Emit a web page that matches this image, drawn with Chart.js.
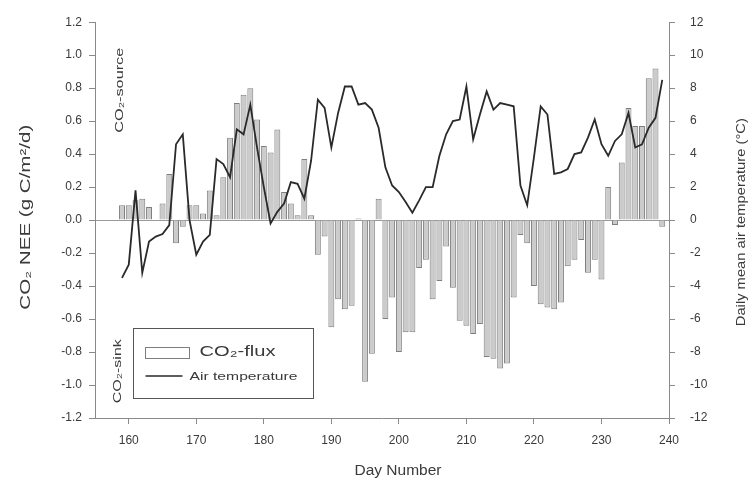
<!DOCTYPE html>
<html>
<head>
<meta charset="utf-8">
<script src="https://cdn.jsdelivr.net/npm/chart.js@4.4.1/dist/chart.umd.min.js"></script>
<style>
html,body{margin:0;padding:0;background:#ffffff;}
#wrap{width:752px;height:490px;position:relative;}
</style>
</head>
<body>
<div id="wrap"><canvas id="c" width="752" height="490"></canvas></div>
<script>
// ---- data ----
const days = [159,160,161,162,163,164,165,166,167,168,169,170,171,172,173,174,175,176,177,178,179,
  180,181,182,183,184,185,186,187,188,189,190,191,192,193,194,195,196,197,198,199,
  200,201,202,203,204,205,206,207,208,209,210,211,212,213,214,215,216,217,218,219,
  220,221,222,223,224,225,226,227,228,229,230,231,232,233,234,235,236,237,238,239];

const co2Flux = [0.09,0.09,0.12,0.13,0.08,0.00,0.10,0.28,-0.14,-0.04,0.09,0.09,0.04,0.18,0.03,0.26,0.50,0.71,0.76,0.80,0.61,
  0.45,0.41,0.55,0.17,0.10,0.03,0.37,0.03,-0.21,-0.10,-0.65,-0.48,-0.54,-0.52,0.01,-0.98,-0.81,0.13,-0.60,-0.47,
  -0.80,-0.68,-0.68,-0.29,-0.24,-0.48,-0.37,-0.16,-0.41,-0.61,-0.64,-0.69,-0.63,-0.83,-0.84,-0.90,-0.87,-0.47,-0.09,-0.14,
  -0.40,-0.51,-0.53,-0.54,-0.50,-0.28,-0.24,-0.12,-0.32,-0.24,-0.36,0.20,-0.03,0.35,0.68,0.57,0.57,0.86,0.92,-0.04];

const airTemp = [-3.5,-2.7,1.8,-3.2,-1.3,-1.0,-0.85,-0.3,4.6,5.2,0.0,-2.1,-1.3,-0.9,3.7,3.4,2.6,5.5,5.2,7.0,4.4,
  2.0,-0.2,0.5,1.0,2.3,2.2,1.3,3.6,7.3,6.8,4.4,6.5,8.1,8.1,7.0,7.1,6.7,5.6,3.2,2.1,
  1.7,1.1,0.45,1.2,2.0,2.0,3.9,5.2,6.0,6.1,8.1,4.9,6.4,7.8,6.7,7.1,7.0,6.9,2.1,0.9,
  3.8,6.9,6.4,2.8,2.9,3.1,4.0,4.1,5.0,6.1,4.6,3.9,4.8,5.2,6.5,4.4,4.6,5.6,6.2,8.5];

const dayTicks = [160,170,180,190,200,210,220,230,240];
const neeTicks = [-1.2,-1.0,-0.8,-0.6,-0.4,-0.2,0,0.2,0.4,0.6,0.8,1.0,1.2];
const tempTicks = [-12,-10,-8,-6,-4,-2,0,2,4,6,8,10,12];

const seriesNames = ['CO₂-flux', 'Air temperature'];

// ---- styling ----
const FONT = "'Liberation Sans', Arial, Helvetica, sans-serif";
const TEXT = '#3a3a3a';
const AXIS = '#8a8a8a';
Chart.defaults.font.family = FONT;
Chart.defaults.color = TEXT;

function drawStretched(ctx, text, x, y, rot, size, target, align) {
  ctx.save();
  ctx.translate(x, y);
  ctx.rotate(rot);
  ctx.font = size + 'px ' + FONT;
  ctx.textAlign = align || 'center';
  ctx.textBaseline = 'middle';
  const w = ctx.measureText(text).width;
  if (target && w > 0) ctx.scale(target / w, 1);
  ctx.fillText(text, 0, 0);
  ctx.restore();
}

const decor = {
  id: 'decor',
  afterDraw(chart) {
    const ctx = chart.ctx;
    const ca = chart.chartArea;
    const barDs = chart.data.datasets[0];
    const lineDs = chart.data.datasets[1];
    ctx.save();
    ctx.fillStyle = TEXT;
    // axis titles
    drawStretched(ctx, 'CO₂ NEE (g C/m²/d)', 26, ca.top + 195, -Math.PI / 2, 14, 185);
    drawStretched(ctx, 'Daily mean air temperature (°C)', 741, ca.top + 200, -Math.PI / 2, 13, 208);
    drawStretched(ctx, 'Day Number', 398, 471, 0, 14, 87);
    // source / sink annotations
    drawStretched(ctx, 'CO₂-source', ca.left + 25, ca.top + 68, -Math.PI / 2, 11, 85);
    drawStretched(ctx, 'CO₂-sink', ca.left + 23, ca.top + 349, -Math.PI / 2, 11, 64);

    // legend box
    const lx = ca.left + 38.5, ly = 328.5, lw = 180, lh = 70;
    ctx.strokeStyle = '#555555';
    ctx.lineWidth = 1;
    ctx.strokeRect(lx, ly, lw, lh);
    // bar sample
    ctx.fillStyle = '#ffffff';
    ctx.fillRect(lx + 12, ly + 19, 44, 11);
    ctx.strokeStyle = barDs.borderColor;
    ctx.strokeRect(lx + 12, ly + 19, 44, 11);
    // line sample
    ctx.strokeStyle = lineDs.borderColor;
    ctx.lineWidth = 1.5;
    ctx.beginPath();
    ctx.moveTo(lx + 12, ly + 47.5);
    ctx.lineTo(lx + 49, ly + 47.5);
    ctx.stroke();
    ctx.fillStyle = TEXT;
    drawStretched(ctx, seriesNames[0], lx + 66, ly + 23, 0, 15, 76, 'left');
    drawStretched(ctx, seriesNames[1], lx + 56, ly + 48, 0, 11.5, 108, 'left');
    ctx.restore();
  }
};

const barData = days.map((d, i) => ({ x: d, y: co2Flux[i] }));
const lineData = days.map((d, i) => ({ x: d, y: airTemp[i] }));

new Chart(document.getElementById('c'), {
  type: 'bar',
  data: {
    datasets: [
      {
        type: 'bar',
        label: seriesNames[0],
        data: barData,
        xAxisID: 'x',
        yAxisID: 'y',
        backgroundColor: '#cbcbcb',
        borderColor: '#7e7e7e',
        borderWidth: 1,
        barPercentage: 0.88,
        categoryPercentage: 1.0,
        order: 2
      },
      {
        type: 'line',
        label: seriesNames[1],
        data: lineData,
        xAxisID: 'x',
        yAxisID: 'y2',
        borderColor: '#2a2a2a',
        borderWidth: 1.8,
        pointRadius: 0,
        tension: 0,
        fill: false,
        order: 1
      }
    ]
  },
  options: {
    responsive: false,
    animation: false,
    devicePixelRatio: 1,
    layout: { padding: { top: 16, left: 0, right: 0, bottom: 0 } },
    plugins: {
      legend: { display: false },
      tooltip: { enabled: false },
      title: { display: false }
    },
    scales: {
      x: {
        type: 'linear',
        position: 'bottom',
        min: 155,
        max: 240,
        offset: false,
        afterBuildTicks: s => { s.ticks = dayTicks.map(v => ({ value: v })); },
        afterFit: s => { s.height = 72; },
        border: { display: true, color: AXIS, width: 1 },
        grid: { offset: false, drawOnChartArea: false, drawTicks: true, tickLength: 6, tickColor: AXIS, color: AXIS },
        ticks: { color: TEXT, font: { size: 12 }, padding: 9, maxRotation: 0, autoSkip: false },
        title: { display: false }
      },
      y: {
        type: 'linear',
        position: 'left',
        min: -1.2,
        max: 1.2,
        afterBuildTicks: s => { s.ticks = neeTicks.map(v => ({ value: v })); },
        afterFit: s => { s.width = 95; },
        border: { display: true, color: AXIS, width: 1 },
        grid: {
          drawOnChartArea: true,
          drawTicks: true,
          tickLength: 6,
          tickColor: AXIS,
          color: c => (c.tick && c.tick.value === 0) ? '#9a9a9a' : 'rgba(0,0,0,0)',
          lineWidth: 1
        },
        ticks: { color: TEXT, font: { size: 12 }, padding: 7, autoSkip: false, callback: v => Number(v).toFixed(1) },
        title: { display: false }
      },
      y2: {
        type: 'linear',
        position: 'right',
        min: -12,
        max: 12,
        afterBuildTicks: s => { s.ticks = tempTicks.map(v => ({ value: v })); },
        afterFit: s => { s.width = 83; },
        border: { display: true, color: AXIS, width: 1 },
        grid: { drawOnChartArea: false, drawTicks: true, tickLength: 6, tickColor: AXIS, color: AXIS },
        ticks: { color: TEXT, font: { size: 12 }, padding: 15, autoSkip: false, callback: v => String(v) },
        title: { display: false }
      }
    }
  },
  plugins: [decor]
});
</script>
</body>
</html>
